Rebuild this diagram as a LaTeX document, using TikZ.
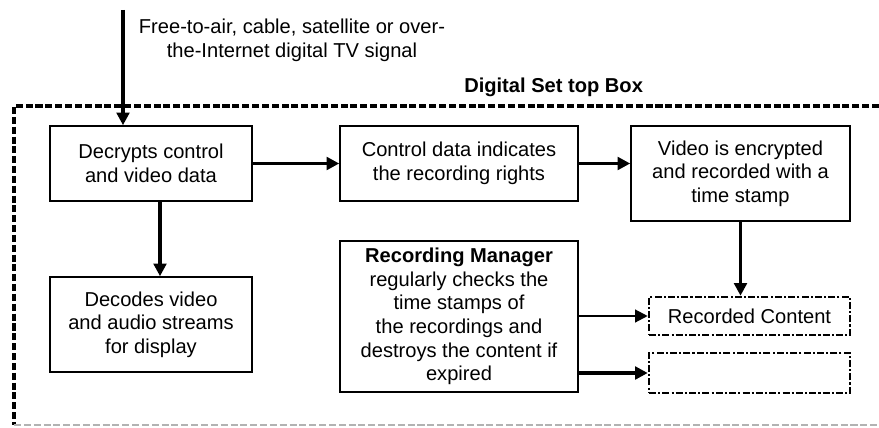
\documentclass[tikz,border=0pt]{standalone}
\usepackage{fontspec}
\setmainfont{Liberation Sans}
\usetikzlibrary{positioning}
\usetikzlibrary{arrows.meta}
\tikzset{
    mybox/.style = {rectangle, draw=black, line width=1.1pt, align=center, inner sep=0pt},
    myboxd/.style = {rectangle, draw=black, line width=1.8pt, dash pattern=on 5pt off 1.5pt on 1.5pt off 1.5pt, align=center, inner sep=0pt},
    mytext/.style = {align=center, inner sep=0pt},
    edgen/.style = {-{Triangle[length=9pt,width=9pt]}, line width=2.8pt},
    edget/.style = {-{Triangle[length=9pt,width=9pt]}, line width=1.5pt},
    frameline/.style = {line width=2.5pt, dash pattern=on 5pt off 2pt}, % set top box
    framelow/.style = {line width=1pt, gray!60, dash pattern=on 5pt off 2pt},
    every picture/.style={font issue=\fontsize{14.3}{16.8}},
    font issue/.style={execute at begin picture={#1\selectfont}}
}

\begin{document}
\begin{tikzpicture}
\useasboundingbox (0,0) rectangle (21.975,10.675);
%
\draw[frameline] (21.975,8.025) -- (0.35,8.025) -- (0.35,0.05);
\draw[framelow] (0.35,0.05) -- (21.975,0.05);
\node[mytext,font=\bfseries] at (13.84,8.5) (stb) {Digital Set top Box};
\node[mytext] at (7.3,9.675) (sigtext) {Free-to-air, cable, satellite or over-\\the-Internet digital TV signal};
\coordinate (sig) at (3.075,10.425);
%
\node[mybox,minimum width=5.05cm,minimum height=1.875cm] at (3.775,6.5875) (decrypt) {Decrypts control\\and video data};
\node[mybox,minimum width=5.95cm,minimum height=1.875cm] at (11.475,6.5875) (rights) {Control data indicates\\the recording rights};
\node[mybox,minimum width=5.475cm,minimum height=2.375cm] at (18.5125,6.3375) (encrypt) {Video is encrypted\\and recorded with a\\time stamp};
\node[mybox,minimum width=5.05cm,minimum height=2.375cm] at (3.775,2.5625) (decode) {Decodes video\\and audio streams\\for display};
\node[mybox,minimum width=5.95cm,minimum height=3.775cm] at (11.475,2.7625) (manager) {\textbf{Recording Manager}\\regularly checks the\\time stamps of\\the recordings and\\destroys the content if\\expired};
\node[myboxd,minimum width=5.025cm,minimum height=0.95cm] at (18.7375,2.775) (content) {Recorded Content};
\node[myboxd,minimum width=5.025cm,minimum height=1.0cm] at (18.7375,1.35) (spare) {};
%
\draw[edgen] (sig) -- (sig |- decrypt.north);
\draw[edgen] (decrypt.east) -- (rights.west);
\draw[edgen] (rights.east) -- (rights.east -| encrypt.west);
\draw[edgen] ([xshift=0.225cm]decrypt.south) -- ([xshift=0.225cm]decode.north);
\draw[edgen] (encrypt.south) -- (encrypt.south |- content.north);
\draw[edget] (content.west -| manager.east) -- (content.west);
\draw[edgen] (spare.west -| manager.east) -- (spare.west);

\end{tikzpicture}
\end{document}
